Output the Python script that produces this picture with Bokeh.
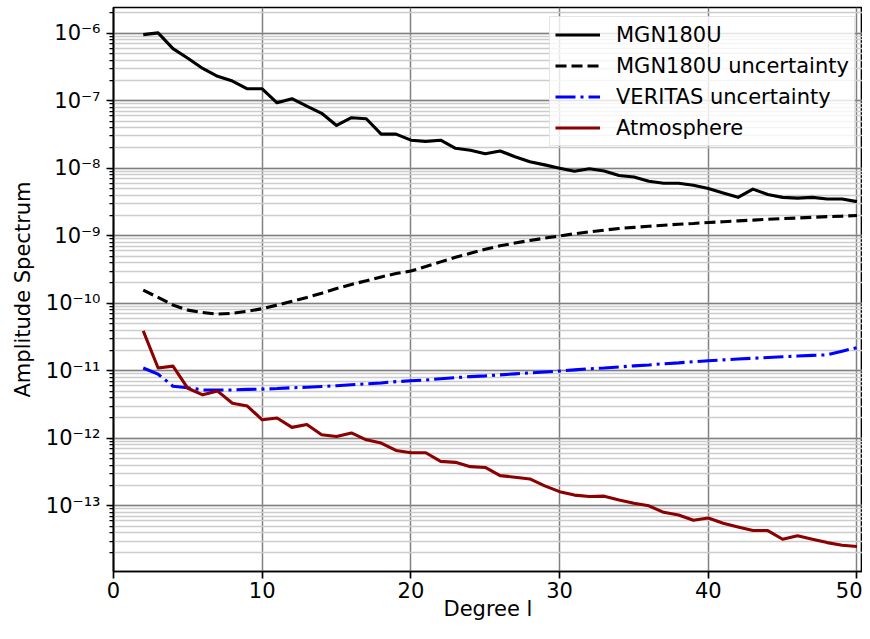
from bokeh.plotting import figure
from bokeh.models import (Range1d, LogTicker, SingleIntervalTicker, CustomJSTickFormatter,
                          Legend, LegendItem, ColumnDataSource)
from bokeh.embed import file_html
from bokeh.resources import INLINE

# ---- data ----
degree = list(range(2, 51))

mgn180u = [9.5e-7, 1.01e-6, 5.9e-7, 4.26e-7, 3.0e-7, 2.3e-7, 1.95e-7, 1.5e-7, 1.5e-7,
           9.3e-8, 1.07e-7, 8.3e-8, 6.5e-8, 4.3e-8, 5.6e-8, 5.4e-8, 3.2e-8, 3.2e-8,
           2.6e-8, 2.5e-8, 2.6e-8, 1.97e-8, 1.84e-8, 1.64e-8, 1.8e-8, 1.48e-8, 1.25e-8,
           1.12e-8, 1.0e-8, 9.0e-9, 9.8e-9, 9.1e-9, 7.8e-9, 7.4e-9, 6.4e-9, 6.0e-9,
           6.0e-9, 5.6e-9, 5.0e-9, 4.3e-9, 3.7e-9, 4.9e-9, 4.07e-9, 3.7e-9, 3.6e-9,
           3.7e-9, 3.5e-9, 3.5e-9, 3.2e-9]

mgn180u_unc = [1.56e-10, 1.22e-10, 9.4e-11, 7.9e-11, 7.3e-11, 6.9e-11, 7.1e-11, 7.6e-11,
               8.3e-11, 9.4e-11, 1.07e-10, 1.22e-10, 1.41e-10, 1.65e-10, 1.9e-10, 2.15e-10,
               2.45e-10, 2.75e-10, 3.0e-10, 3.5e-10, 4.1e-10, 4.8e-10, 5.5e-10, 6.3e-10,
               7.1e-10, 7.8e-10, 8.5e-10, 9.2e-10, 9.9e-10, 1.07e-9, 1.14e-9, 1.21e-9,
               1.28e-9, 1.33e-9, 1.38e-9, 1.43e-9, 1.48e-9, 1.52e-9, 1.57e-9, 1.61e-9,
               1.66e-9, 1.70e-9, 1.75e-9, 1.79e-9, 1.83e-9, 1.87e-9, 1.92e-9, 1.95e-9, 1.99e-9]

veritas_unc = [1.1e-11, 8.9e-12, 5.9e-12, 5.6e-12, 5.2e-12, 5.2e-12, 5.2e-12, 5.3e-12,
               5.35e-12, 5.45e-12, 5.6e-12, 5.7e-12, 5.85e-12, 6.0e-12, 6.2e-12, 6.4e-12,
               6.6e-12, 6.9e-12, 7.1e-12, 7.3e-12, 7.6e-12, 7.9e-12, 8.2e-12, 8.4e-12,
               8.7e-12, 9.0e-12, 9.3e-12, 9.6e-12, 9.9e-12, 1.03e-11, 1.07e-11, 1.1e-11,
               1.14e-11, 1.18e-11, 1.22e-11, 1.27e-11, 1.31e-11, 1.36e-11, 1.41e-11,
               1.45e-11, 1.49e-11, 1.53e-11, 1.57e-11, 1.61e-11, 1.65e-11, 1.69e-11,
               1.72e-11, 1.95e-11, 2.2e-11]

atmosphere = [3.9e-11, 1.1e-11, 1.17e-11, 5.5e-12, 4.4e-12, 5.0e-12, 3.3e-12, 3.0e-12,
              1.88e-12, 2.0e-12, 1.45e-12, 1.6e-12, 1.13e-12, 1.06e-12, 1.2e-12, 9.5e-13,
              8.5e-13, 6.6e-13, 6.1e-13, 6.1e-13, 4.55e-13, 4.4e-13, 3.8e-13, 3.7e-13,
              2.8e-13, 2.65e-13, 2.5e-13, 1.97e-13, 1.62e-13, 1.44e-13, 1.37e-13, 1.39e-13,
              1.22e-13, 1.09e-13, 1.0e-13, 8.0e-14, 7.3e-14, 6.1e-14, 6.6e-14, 5.5e-14,
              4.85e-14, 4.3e-14, 4.3e-14, 3.2e-14, 3.6e-14, 3.2e-14, 2.85e-14, 2.6e-14,
              2.5e-14]

labels = ["MGN180U", "MGN180U uncertainty", "VERITAS uncertainty", "Atmosphere"]
x_label = "Degree l"
y_label = "Amplitude Spectrum"

FONT = "DejaVu Sans"
FS = "21px"

p = figure(width=862, height=623, y_axis_type="log",
           x_range=Range1d(0, 50.37),
           y_range=Range1d(10 ** -13.973, 10 ** -5.620),
           output_backend="svg", toolbar_location=None,
           min_border_left=113, min_border_right=0, min_border_top=7, min_border_bottom=50)

p.outline_line_color = "black"
p.outline_line_width = 1.7
p.background_fill_color = "white"
p.border_fill_color = "white"

# axes
p.xaxis.ticker = SingleIntervalTicker(interval=10, num_minor_ticks=0)
p.yaxis.ticker = LogTicker(num_minor_ticks=10, desired_num_ticks=10, mantissas=[1])
p.yaxis.formatter = CustomJSTickFormatter(code="""
const e = Math.round(Math.log10(tick));
const sup = {'-':'\u207b','0':'\u2070','1':'\u00b9','2':'\u00b2','3':'\u00b3','4':'\u2074',
             '5':'\u2075','6':'\u2076','7':'\u2077','8':'\u2078','9':'\u2079'};
return '10' + String(e).split('').map(c => sup[c]).join('');
""")
for ax in (p.xaxis[0], p.yaxis[0]):
    ax.axis_line_color = "black"
    ax.axis_line_width = 1.7
    ax.major_tick_line_color = "black"
    ax.major_tick_line_width = 1.7
    ax.major_tick_out = 7
    ax.major_tick_in = 0
    ax.minor_tick_line_color = "black"
    ax.minor_tick_line_width = 1.25
    ax.minor_tick_out = 4
    ax.minor_tick_in = 0
    ax.major_label_text_font = FONT
    ax.major_label_text_font_size = FS
    ax.major_label_text_color = "black"
    ax.axis_label_text_font = FONT
    ax.axis_label_text_font_size = FS
    ax.axis_label_text_font_style = "normal"
    ax.axis_label_text_color = "black"

p.xaxis.axis_label = x_label
p.yaxis.axis_label = y_label
p.xaxis.major_label_standoff = 3
p.xaxis.axis_label_standoff = -4
p.yaxis.major_label_standoff = 6
p.yaxis.axis_label_standoff = 8

# grids
p.xgrid.grid_line_color = "#808080"
p.xgrid.grid_line_width = 1.5
p.ygrid.grid_line_color = "#808080"
p.ygrid.grid_line_width = 1.5
p.ygrid.minor_grid_line_color = "#cccccc"
p.ygrid.minor_grid_line_width = 1.5

src = ColumnDataSource(dict(l=degree, m=mgn180u, mu=mgn180u_unc, v=veritas_unc, a=atmosphere))
r1 = p.line("l", "m", source=src, line_color="black", line_width=3.1, line_join="round")
r2 = p.line("l", "mu", source=src, line_color="black", line_width=3.1, line_dash="11 5")
r3 = p.line("l", "v", source=src, line_color="#0000ff", line_width=3.1, line_dash="20 5 3 5")
r4 = p.line("l", "a", source=src, line_color="#8b0000", line_width=3.1, line_join="round")

legend = Legend(items=[LegendItem(label=labels[0], renderers=[r1]),
                       LegendItem(label=labels[1], renderers=[r2]),
                       LegendItem(label=labels[2], renderers=[r3]),
                       LegendItem(label=labels[3], renderers=[r4])],
                location=(436, 425))
legend.label_text_font = FONT
legend.label_text_font_size = FS
legend.label_text_color = "black"
legend.glyph_width = 45
legend.glyph_height = 25
legend.label_height = 25
legend.label_standoff = 16
legend.spacing = 6
legend.padding = 5
legend.margin = 0
legend.background_fill_color = "white"
legend.background_fill_alpha = 0.8
legend.border_line_color = "#cccccc"
legend.border_line_width = 1.5
p.add_layout(legend)

open("out.html", "w").write(file_html(p, INLINE))
